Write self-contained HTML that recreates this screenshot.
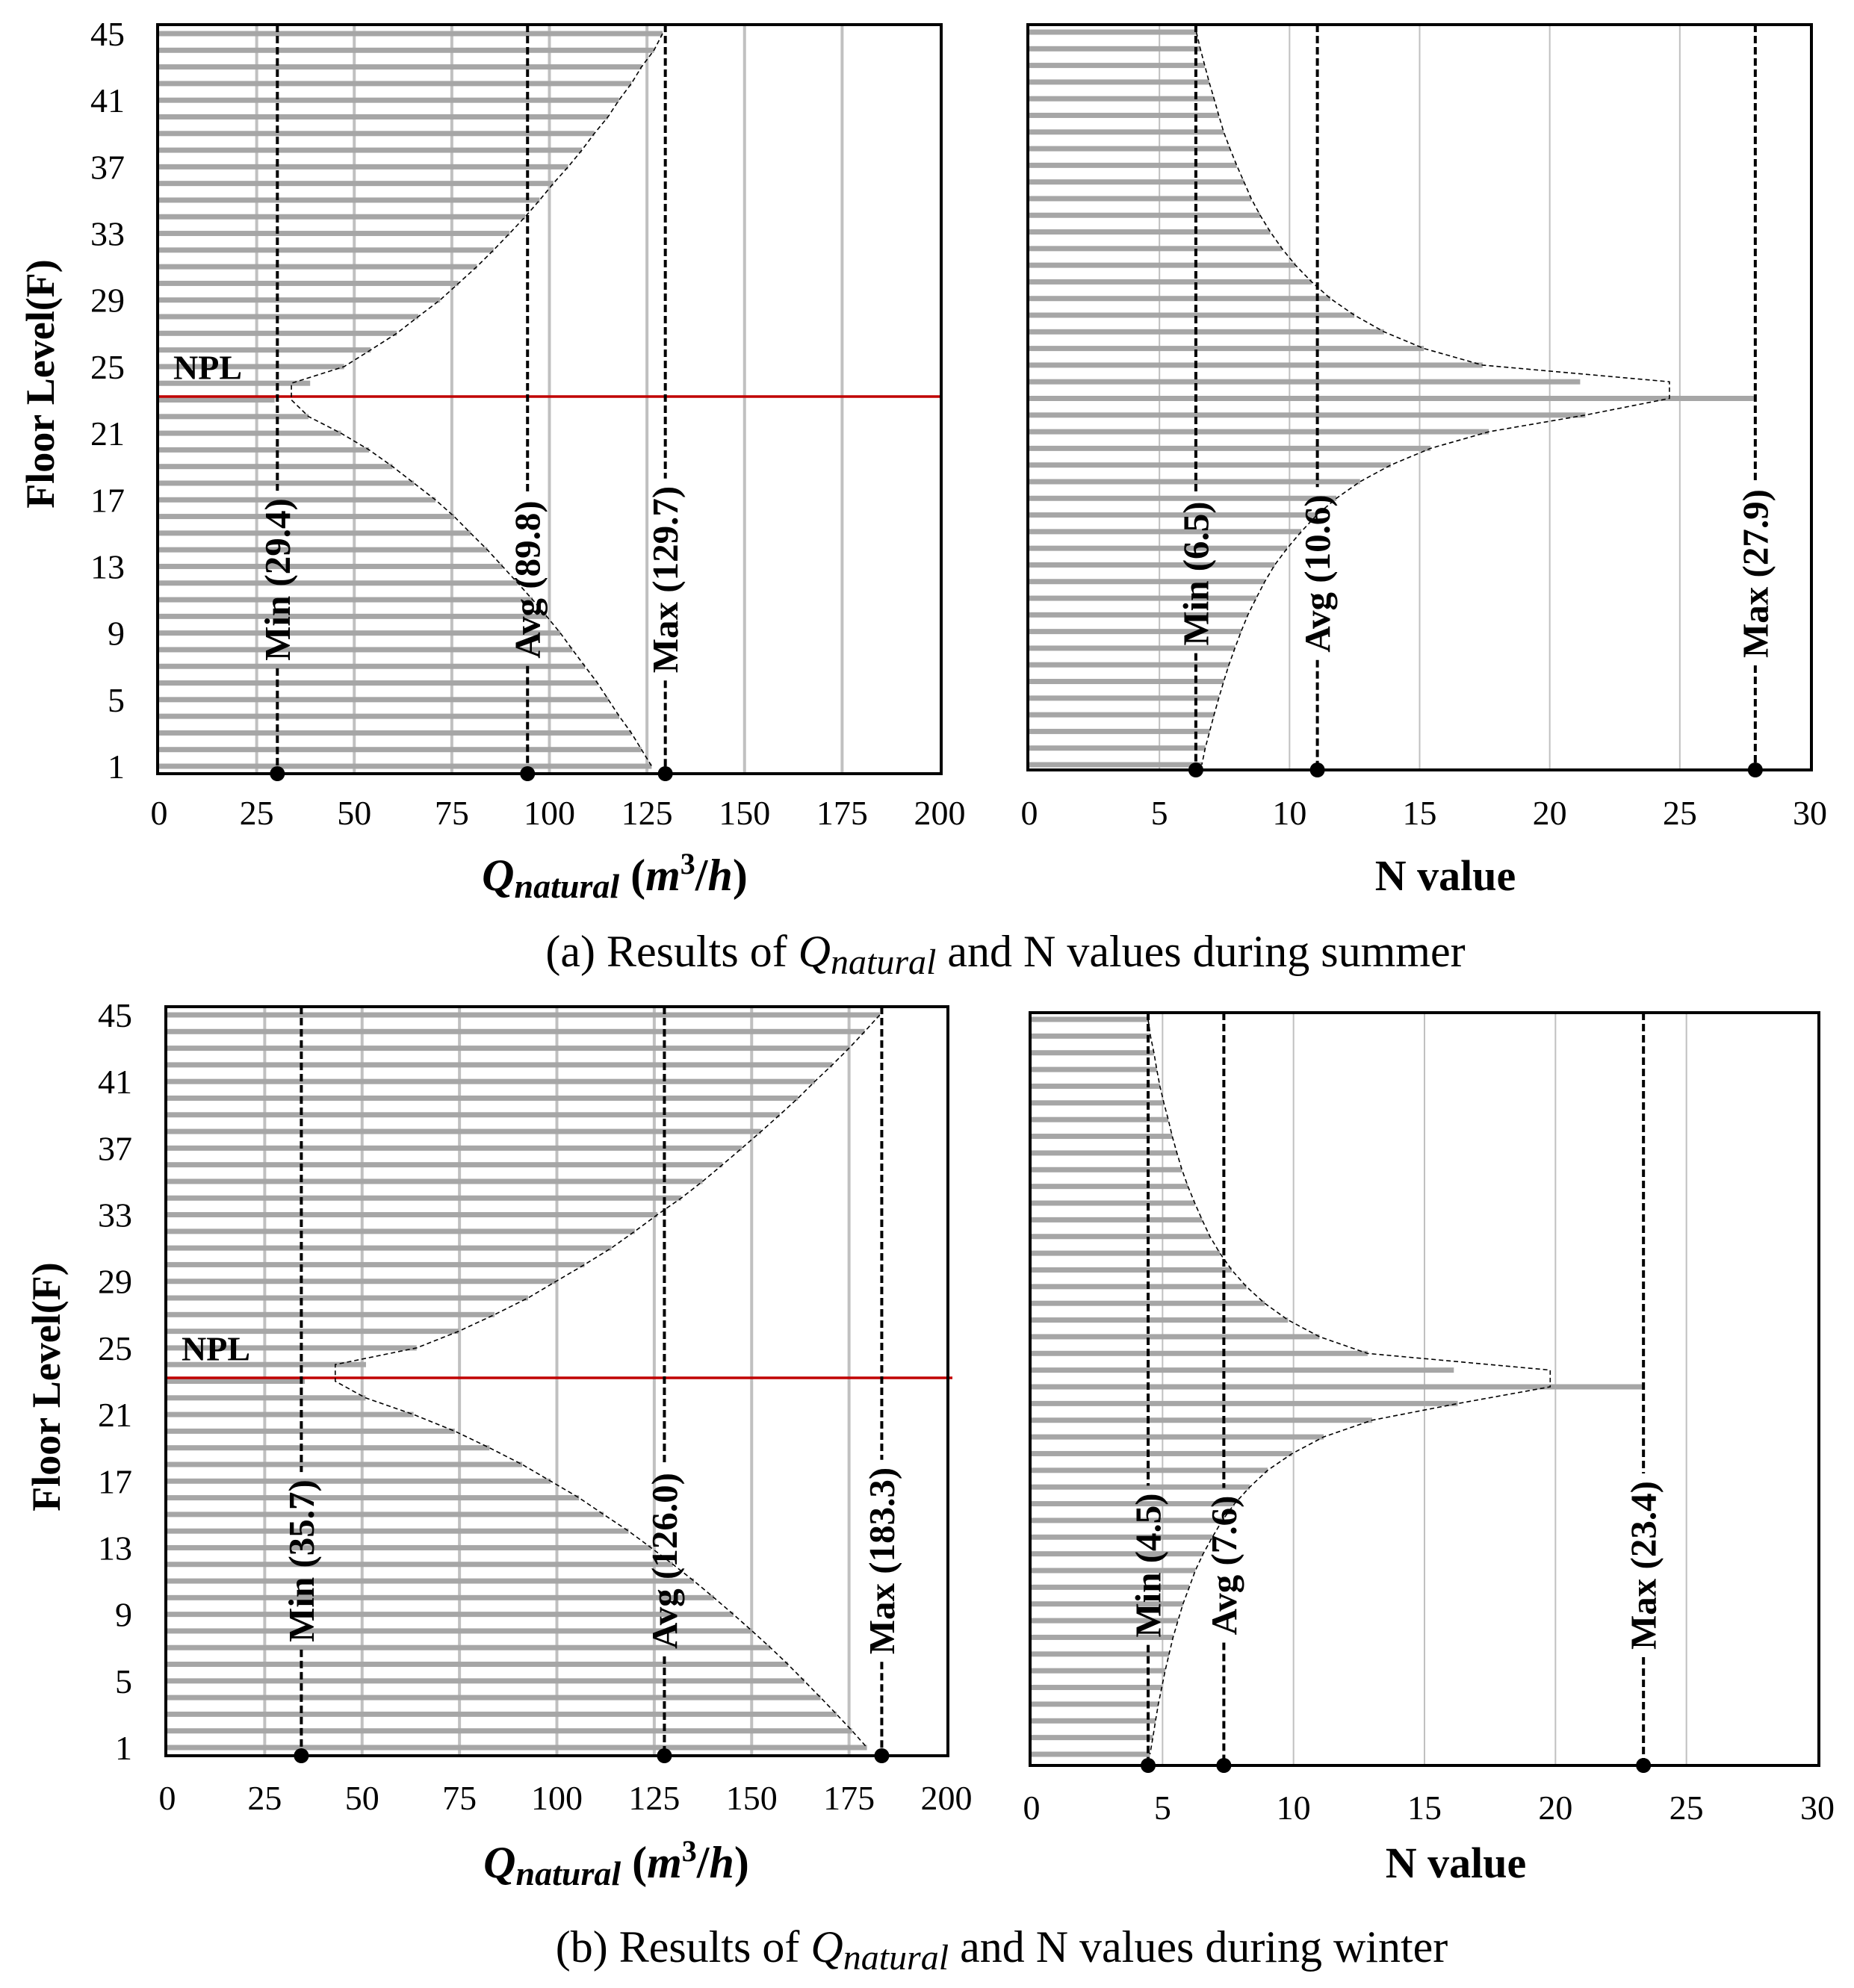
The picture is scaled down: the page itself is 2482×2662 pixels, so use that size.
<!DOCTYPE html>
<html><head><meta charset="utf-8">
<style>
html,body{margin:0;padding:0;background:#fff;}
svg{display:block;}
text{font-family:"Liberation Serif","Times New Roman",serif;}
</style></head>
<body>
<svg id="fig" width="2482" height="2662" viewBox="0 0 2482 2662" xmlns="http://www.w3.org/2000/svg">
<rect x="0" y="0" width="2482" height="2662" fill="#fff"/>
<text x="1346" y="1294" font-size="60" text-anchor="middle">(a) Results of  <tspan font-style="italic">Q</tspan><tspan font-style="italic" font-size="48" dy="10">natural</tspan><tspan dy="-10"> and N values during summer</tspan></text>
<text x="1341" y="2627" font-size="60" text-anchor="middle">(b) Results of  <tspan font-style="italic">Q</tspan><tspan font-style="italic" font-size="48" dy="10">natural</tspan><tspan dy="-10"> and N values during winter</tspan></text>
</svg>
<script>
// ---- data (index 0 = floor 1 ... index 44 = floor 45) ----
const floors = Array.from({length:45},(_,i)=>i+1);
const floorTicks = [1,5,9,13,17,21,25,29,33,37,41,45];
const qTicks = [0,25,50,75,100,125,150,175,200];
const nTicks = [0,5,10,15,20,25,30];

const summerQ = [126.2,123.6,121,117.9,115.1,112.3,109.1,105.9,102.8,99.3,95.7,91.9,88,84.1,79.8,75.6,70.8,65.3,59.8,53.8,46.6,38.3,29.6,38.7,47.4,54.2,60.9,66.4,72,76.7,81.4,85.7,89.8,93.8,97.5,101,104.8,108.3,111.5,115,117.8,121,123.6,126.8,129];
const summerQRefValues = [30.3,94.4,129.7];
const summerQRefLabels = ["Min (29.4)","Avg (89.8)","Max (129.7)"];
const summerQApex = 33.9;

const summerN = [6.63,6.76,6.93,7.1,7.28,7.47,7.67,7.9,8.14,8.4,8.72,9.05,9.43,9.91,10.45,11.05,11.8,12.71,13.89,15.42,17.66,21.37,27.9,21.17,17.42,15.16,13.63,12.49,11.57,10.85,10.23,9.71,9.26,8.87,8.53,8.25,7.97,7.71,7.47,7.28,7.1,6.91,6.74,6.57,6.42];
const summerNRefValues = [6.4,11.07,27.9];
const summerNRefLabels = ["Min (6.5)","Avg (10.6)","Max (27.9)"];
const summerNApex = 24.6;

const winterQ = [179.6,175.8,171.8,167.7,163.5,159.3,154.8,150.1,145.3,140.3,135.2,129.8,124.2,118.4,112,105.7,98.4,91.1,82.7,73.8,63.2,50.9,35.3,51,64,74.8,84,92.6,99.8,107.1,114,120,125.8,131.9,137.4,142.5,147.5,152.4,157.2,161.9,166.2,170.7,175,179,182.9];
const winterQRefValues = [34.4,127.6,183.4];
const winterQRefLabels = ["Min (35.7)","Avg (126.0)","Max (183.3)"];
const winterQApex = 43.1;

const winterN = [4.52,4.63,4.73,4.84,4.97,5.1,5.25,5.4,5.59,5.78,6.02,6.25,6.55,6.9,7.28,7.75,8.33,9.01,9.94,11.15,13,16.27,23.36,16.12,12.83,10.99,9.79,8.9,8.2,7.64,7.19,6.81,6.51,6.23,5.97,5.74,5.55,5.37,5.22,5.05,4.9,4.78,4.67,4.54,4.45];
const winterNRefValues = [4.45,7.34,23.36];
const winterNRefLabels = ["Min (4.5)","Avg (7.6)","Max (23.4)"];
const winterNApex = 19.8;

const NPL_FLOOR = 23;

const svg = document.getElementById('fig');
const NS = 'http://www.w3.org/2000/svg';
function mk(tag, attrs, parent){
  const e = document.createElementNS(NS, tag);
  for (const k in attrs) e.setAttribute(k, attrs[k]);
  (parent||svg).appendChild(e);
  return e;
}

function drawPanel(p){
  const g = mk('g', {});
  
  
  const sx = v => p.x0 + (v / p.max) * (p.x1 - p.x0);
  const sy = f => p.y1 + (f - 1) * (p.y45 - p.y1) / 44;

  p.ticks.forEach(t => {
    if (t === 0 || t === p.max) return;
    const l = mk('line', {x1:sx(t), x2:sx(t), y1:p.top, y2:p.bottom, stroke:'#c0c0c0', 'stroke-width':p.gridW}, g);
    
    
  });

  p.values.forEach((v, i) => {
    const y = sy(floors[i]);
    const b = mk('rect', {x:p.x0, y:y-3.5, width:sx(v)-p.x0, height:7, fill:'#a6a6a6'}, g);
    
    
  });

  if (p.npl) {
    const ry = sy(NPL_FLOOR + 0.2);
    const r = mk('line', {x1:p.left, x2:p.right + p.redExtra, y1:ry, y2:ry, stroke:'#c00000', 'stroke-width':3.5}, g);
    
    
    const t = mk('text', {x:p.left + 21, y:sy(NPL_FLOOR) - 28, 'font-size':46, 'font-weight':'bold'}, g);
    t.textContent = 'NPL';
    
    
  }

  const pts = [];
  for (let f = 45; f >= 1; f--) {
    let v = p.values[f-1];
    if (f === 24 || f === 23) v = p.apex;
    pts.push(sx(v).toFixed(1) + ',' + sy(f).toFixed(1));
  }
  const env = mk('polyline', {points:pts.join(' '), fill:'none', stroke:'#000', 'stroke-width':1.6, 'stroke-dasharray':'6 4'}, g);
  
  

  const fr = mk('rect', {x:p.left, y:p.top, width:p.right-p.left, height:p.bottom-p.top, fill:'none', stroke:'#000', 'stroke-width':4}, g);
  
  

  p.refValues.forEach((v, i) => {
    const x = sx(v);
    const t = mk('text', {x:0, y:0, 'font-size':49, 'font-weight':'bold', 'text-anchor':'middle', 'dominant-baseline':'central', transform:'translate(' + x + ',' + p.labelY + ') rotate(-90)'}, g);
    t.textContent = p.refLabels[i];
    
    
    const len = t.getComputedTextLength ? t.getComputedTextLength() : 240;
    const a = mk('line', {x1:x, x2:x, y1:p.top, y2:p.labelY - len/2 - 10, stroke:'#000', 'stroke-width':4, 'stroke-dasharray':'10 5'}, g);
    
    
    const b = mk('line', {x1:x, x2:x, y1:p.labelY + len/2 + 10, y2:p.bottom, stroke:'#000', 'stroke-width':4, 'stroke-dasharray':'10 5'}, g);
    
    
    const d = mk('circle', {cx:x, cy:p.bottom, r:10, fill:'#000'}, g);
    
    
  });

  p.ticks.forEach(t => {
    const tx = mk('text', {x:sx(t), y:p.xTickY, 'font-size':46, 'text-anchor':'middle'}, g);
    tx.textContent = t;
    
    
  });

  if (p.yAxis) {
    floorTicks.forEach(f => {
      const ty = mk('text', {x:p.yTickX, y:sy(f) + 16, 'font-size':46, 'text-anchor':'end'}, g);
      ty.textContent = f;
      
      
    });
    const yt = mk('text', {x:0, y:0, 'font-size':54, 'font-weight':'bold', 'text-anchor':'middle', 'dominant-baseline':'central', transform:'translate(' + p.yTitleX + ',' + p.yTitleY + ') rotate(-90)'}, g);
    yt.textContent = 'Floor Level(F)';
    
    
  }

  const xt = mk('text', {x:p.xTitleX, y:p.xTitleY, 'font-size':p.qTitle ? 60 : 58, 'font-weight':'bold', 'text-anchor':'middle'}, g);
  if (p.qTitle) {
    xt.innerHTML = '<tspan font-style="italic">Q</tspan><tspan font-style="italic" font-size="46" dy="10">natural</tspan><tspan dy="-10"> (</tspan><tspan font-style="italic">m</tspan><tspan font-size="40" dy="-22">3</tspan><tspan dy="22">/</tspan><tspan font-style="italic">h</tspan><tspan>)</tspan>';
  } else {
    xt.textContent = 'N value';
  }
  
  
}

drawPanel({name:'summer-q-chart', values:summerQ, refValues:summerQRefValues, refLabels:summerQRefLabels, apex:summerQApex, max:200, ticks:qTicks,
  left:211, top:33, right:1260, bottom:1036, x0:213, x1:1258, y45:45, y1:1026, gridW:4, npl:true, redExtra:0,
  labelY:776, xTickY:1104, yAxis:true, yTickX:167, yTitleX:54, yTitleY:514, xTitleX:823, xTitleY:1192, qTitle:true});
drawPanel({name:'summer-n-chart', values:summerN, refValues:summerNRefValues, refLabels:summerNRefLabels, apex:summerNApex, max:30, ticks:nTicks,
  left:1376, top:33, right:2425, bottom:1031, x0:1378, x1:2423, y45:43, y1:1024, gridW:2, npl:false,
  labelY:768, xTickY:1104, yAxis:false, xTitleX:1935, xTitleY:1192, qTitle:false});
drawPanel({name:'winter-q-chart', values:winterQ, refValues:winterQRefValues, refLabels:winterQRefLabels, apex:winterQApex, max:200, ticks:qTicks,
  left:222, top:1348, right:1269, bottom:2351, x0:224, x1:1267, y45:1359, y1:2340, gridW:4, npl:true, redExtra:6,
  labelY:2090, xTickY:2423, yAxis:true, yTickX:177, yTitleX:62, yTitleY:1857, xTitleX:825, xTitleY:2514, qTitle:true});
drawPanel({name:'winter-n-chart', values:winterN, refValues:winterNRefValues, refLabels:winterNRefLabels, apex:winterNApex, max:30, ticks:nTicks,
  left:1379, top:1356, right:2435, bottom:2364, x0:1381, x1:2433, y45:1365, y1:2349, gridW:2, npl:false,
  labelY:2096, xTickY:2436, yAxis:false, xTitleX:1949, xTitleY:2514, qTitle:false});
</script>
</body></html>
